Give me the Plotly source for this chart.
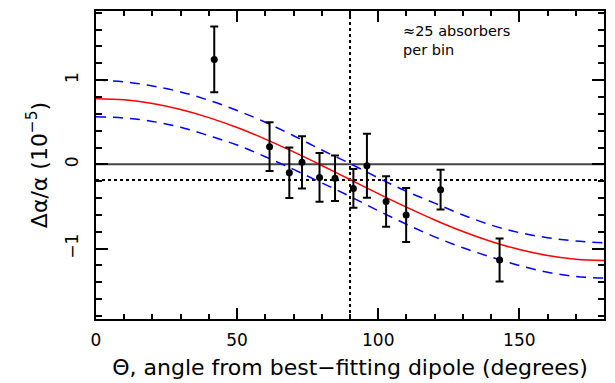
import plotly.graph_objects as go

# Binned data points
theta = [41.9, 61.5, 68.5, 73.0, 79.2, 84.7, 91.2, 96.0, 102.8, 109.9, 122.1, 143.0]
dalpha = [1.245, 0.21, -0.10, 0.024, -0.155, -0.166, -0.285, -0.016, -0.44, -0.60, -0.30, -1.135]
err = [0.39, 0.29, 0.30, 0.31, 0.29, 0.27, 0.23, 0.38, 0.30, 0.32, 0.235, 0.255]

# Dipole fit curve and 1-sigma band
curve_theta = [0, 10, 20, 30, 40, 50, 60, 70, 80, 90, 100, 110, 120, 130, 140, 150, 160, 170, 180]
fit = [0.78, 0.766, 0.722, 0.651, 0.555, 0.437, 0.30, 0.148, -0.013, -0.18, -0.347, -0.508,
       -0.66, -0.797, -0.915, -1.011, -1.082, -1.126, -1.14]
upper = [1.00, 0.98, 0.93, 0.86, 0.76, 0.64, 0.50, 0.34, 0.17, 0.01, -0.16, -0.32,
         -0.46, -0.60, -0.72, -0.81, -0.87, -0.91, -0.93]
lower = [0.565, 0.55, 0.51, 0.44, 0.34, 0.23, 0.09, -0.06, -0.22, -0.38, -0.55, -0.71,
         -0.86, -0.99, -1.10, -1.20, -1.28, -1.33, -1.35]

monopole = -0.186
dipole_angle = 90

FONT = "DejaVu Sans"

fig = go.Figure()
for band in (upper, lower):
    fig.add_trace(go.Scatter(x=curve_theta, y=band, mode="lines",
                             line=dict(color="#0000ff", width=1.5, dash="10px,7px", shape="spline"),
                             hoverinfo="skip", showlegend=False))
fig.add_trace(go.Scatter(x=curve_theta, y=fit, mode="lines",
                         line=dict(color="#ff0000", width=1.5, shape="spline"),
                         showlegend=False))
fig.add_trace(go.Scatter(x=theta, y=dalpha, mode="markers",
                         marker=dict(color="black", size=7),
                         error_y=dict(type="data", array=err, color="black", thickness=2, width=4),
                         showlegend=False))

fig.add_hline(y=0, line=dict(color="#444444", width=2), layer="below")
fig.add_hline(y=monopole, line=dict(color="black", width=2, dash="dot"), layer="below")
fig.add_vline(x=dipole_angle, line=dict(color="black", width=2, dash="dot"), layer="below")

fig.add_annotation(x=108.0, y=1.70, xref="x", yref="y", xanchor="left", yanchor="top",
                   align="left", showarrow=False,
                   text="≈25 absorbers<br>per bin",
                   font=dict(family=FONT, size=14.5, color="black"))

axis_common = dict(showline=True, linecolor="black", linewidth=2, mirror="ticks",
                   ticks="inside", tickcolor="black", tickwidth=2,
                   showgrid=False, zeroline=False, automargin=False,
                   tickfont=dict(family=FONT, size=17, color="black"))

fig.update_xaxes(range=[0, 180], tickvals=[0, 50, 100, 150], ticklen=11,
                 minor=dict(dtick=10, tick0=0, ticks="inside", ticklen=5, tickwidth=2,
                            tickcolor="black", showgrid=False),
                 title=dict(text="Θ, angle from best−fitting dipole (degrees)",
                            font=dict(family=FONT, size=22, color="black"), standoff=10),
                 ticklabelstandoff=5,
                 **axis_common)
fig.update_yaxes(range=[-1.835, 1.82], tickvals=[-1, 0, 1], ticklen=12, tickangle=-90,
                 minor=dict(dtick=0.2, tick0=0, ticks="inside", ticklen=6, tickwidth=2,
                            tickcolor="black", showgrid=False),
                 title=dict(text="Δα/α (10<sup>−5</sup>)",
                            font=dict(family=FONT, size=22, color="black"), standoff=9),
                 ticklabelstandoff=9,
                 **axis_common)

# The page body has an 8px margin, so the figure is 8px smaller on each axis
fig.update_layout(width=607, height=375, margin=dict(l=88, r=11, t=3, b=64),
                  paper_bgcolor="white", plot_bgcolor="white")

fig.write_html("out.html")
